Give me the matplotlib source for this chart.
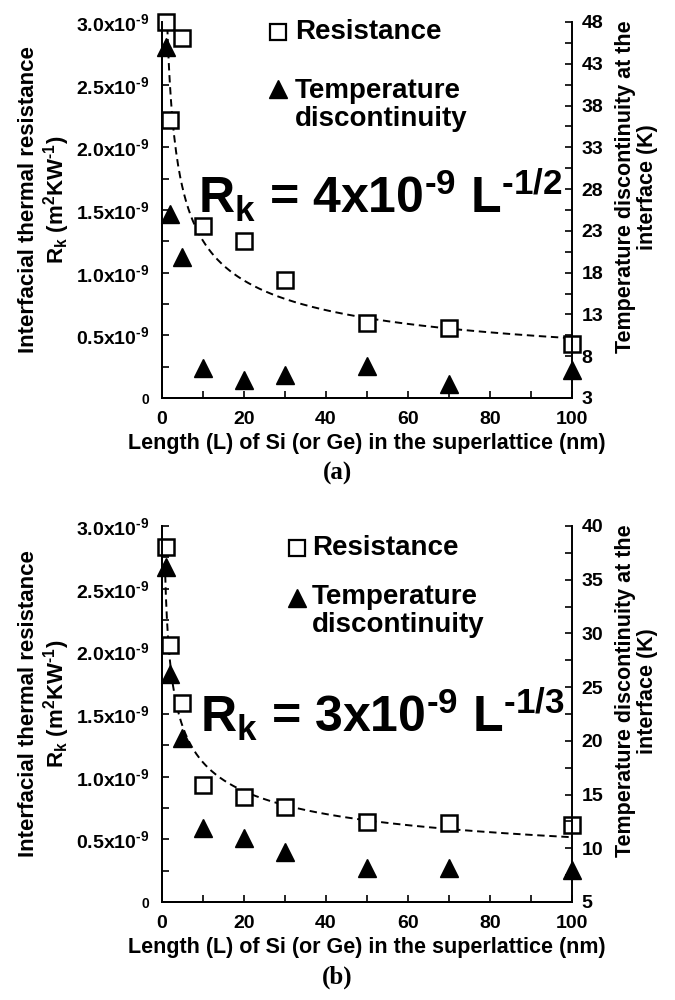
"""
Interfacial thermal resistance R_k and temperature discontinuity vs
Si (or Ge) layer length in the superlattice, two panels (a) and (b).
"""

import matplotlib.pyplot as plt
import numpy as np
from matplotlib.ticker import FixedLocator, MultipleLocator

plt.rcParams["font.family"] = ["Liberation Sans", "DejaVu Sans"]
plt.rcParams["font.weight"] = "bold"
plt.rcParams["axes.labelweight"] = "bold"
plt.rcParams["mathtext.fontset"] = "custom"
plt.rcParams["mathtext.rm"] = "Liberation Sans:bold"
plt.rcParams["mathtext.it"] = "Liberation Sans:bold"
plt.rcParams["mathtext.bf"] = "Liberation Sans:bold"
plt.rcParams["mathtext.default"] = "rm"

HY = "\u2010"   # short hyphen for exponents, as in the original figure

# --- data (resistance in units of 1e-9 m^2 K W^-1, temperature in K) ---
L_NM = [1, 2, 5, 10, 20, 30, 50, 70, 100]

RES_A  = [3.00, 2.22, 2.87, 1.37, 1.25, 0.94, 0.595, 0.556, 0.43]
TEMP_A = [45.0, 25.0, 19.9, 6.6, 5.1, 5.7, 6.8, 4.7, 6.3]

RES_B  = [2.83, 2.05, 1.59, 0.93, 0.84, 0.76, 0.64, 0.63, 0.615]
TEMP_B = [36.2, 26.2, 20.3, 11.9, 11.0, 9.7, 8.2, 8.2, 8.0]

# power-law trend lines drawn in each panel: R = c * L^-p  (c in 1e-9)
TREND_A = (3.3, 0.42, 1.2)     # c, p, first L
TREND_B = (2.4, 1 / 3, 0.7)

EQ_A = rf"R$_\mathregular{{k}}$ = 4x10$^{{{HY}9}}$ L$^{{{HY}1/2}}$"
EQ_B = rf"R$_\mathregular{{k}}$ = 3x10$^{{{HY}9}}$ L$^{{{HY}1/3}}$"

LEFT_TICKS = [0, 0.5, 1.0, 1.5, 2.0, 2.5, 3.0]
LEFT_LABELS = ["0"] + [rf"{v:.1f}x10$^{{{HY}9}}$" for v in LEFT_TICKS[1:]]

RIGHT_A = (3, 48, 5)
RIGHT_B = (5, 40, 5)

LEG_A = dict(mx=0.283, tx=0.324, ys=0.974, yt=0.822, yt_text=0.779)
LEG_B = dict(mx=0.329, tx=0.366, ys=0.942, yt=0.808, yt_text=0.773)
EQ_POS_A = (0.088, 0.492)
EQ_POS_B = (0.093, 0.452)


def draw_panel(rect, res, temp, trend, eq, eq_pos, right, leg, tag):
    ax = fig.add_axes(rect)
    ax2 = ax.twinx()

    # trend line
    c, p, l0 = trend
    lfit = np.linspace(l0, 100, 400)
    ax.plot(lfit, c * lfit ** (-p), ls=(0, (3.8, 2.4)), color="k", lw=1.4, zorder=2)

    ax.plot(L_NM, res, ls="none", marker="s", ms=12, mfc="white", mec="k",
            mew=1.8, clip_on=False, zorder=4)
    ax2.plot(L_NM, temp, ls="none", marker="^", ms=12.5, color="k",
             clip_on=False, zorder=3)

    ax.set_xlim(0, 100)
    ax.set_ylim(0, 3.0)
    ax2.set_ylim(right[0], right[1])

    ax.xaxis.set_major_locator(MultipleLocator(20))
    ax.xaxis.set_minor_locator(MultipleLocator(10))
    ax.yaxis.set_major_locator(FixedLocator(LEFT_TICKS))
    ax.yaxis.set_minor_locator(MultipleLocator(0.25))
    ax.set_yticklabels(LEFT_LABELS)
    ax2.yaxis.set_major_locator(MultipleLocator(right[2], offset=right[0]))
    ax2.yaxis.set_minor_locator(MultipleLocator(right[2] / 2, offset=right[0]))

    for a in (ax, ax2):
        a.spines["top"].set_visible(False)
        for s in a.spines.values():
            s.set_linewidth(1.4)
        a.tick_params(which="both", direction="in", width=1.2, length=5)
    ax.tick_params(axis="x", labelsize=14, pad=9)
    ax.tick_params(axis="y", labelsize=14, pad=9)
    ax2.tick_params(axis="y", labelsize=14, pad=7)
    ax.get_yticklabels()[0].set_fontsize(10)
    ax.spines["right"].set_visible(False)

    ax.set_xlabel("Length (L) of Si (or Ge) in the superlattice (nm)",
                  fontsize=15.5, labelpad=4)
    ax.text(-0.285, 0.527, "Interfacial thermal resistance\n"
            rf"R$_\mathregular{{k}}$ (m$^2$KW$^{{{HY}1}}$)",
            transform=ax.transAxes, rotation=90, ha="center", va="center",
            fontsize=16, linespacing=1.1, multialignment="center")
    ax.text(1.158, 0.562, "Temperature discontinuity at the\ninterface (K)",
            transform=ax.transAxes, rotation=90, ha="center", va="center",
            fontsize=15.5, linespacing=1.1, multialignment="center")

    # legend built from markers + text
    ax.plot([leg["mx"]], [leg["ys"]], transform=ax.transAxes, marker="s",
            ms=11, mfc="white", mec="k", mew=1.6, clip_on=False)
    ax.text(leg["tx"], leg["ys"], "Resistance", transform=ax.transAxes,
            fontsize=20, va="center", ha="left")
    ax.plot([leg["mx"]], [leg["yt"]], transform=ax.transAxes, marker="^",
            ms=13, color="k", clip_on=False)
    ax.text(leg["tx"], leg["yt_text"], "Temperature\ndiscontinuity",
            transform=ax.transAxes, fontsize=20, va="center", ha="left",
            linespacing=1.1)

    ax.text(eq_pos[0], eq_pos[1], eq, transform=ax.transAxes, fontsize=36,
            va="baseline", ha="left")

    fig.text(0.5, rect[1] - 0.075, tag, ha="center", va="center",
             fontsize=18, family="Liberation Serif", weight="bold")


fig = plt.figure(figsize=(6.75, 10), dpi=100)

draw_panel([0.240, 0.602, 0.607, 0.376], RES_A, TEMP_A, TREND_A, EQ_A,
           EQ_POS_A, RIGHT_A, LEG_A, "(a)")
draw_panel([0.240, 0.098, 0.607, 0.376], RES_B, TEMP_B, TREND_B, EQ_B,
           EQ_POS_B, RIGHT_B, LEG_B, "(b)")

fig.savefig("out.png", dpi=100)
